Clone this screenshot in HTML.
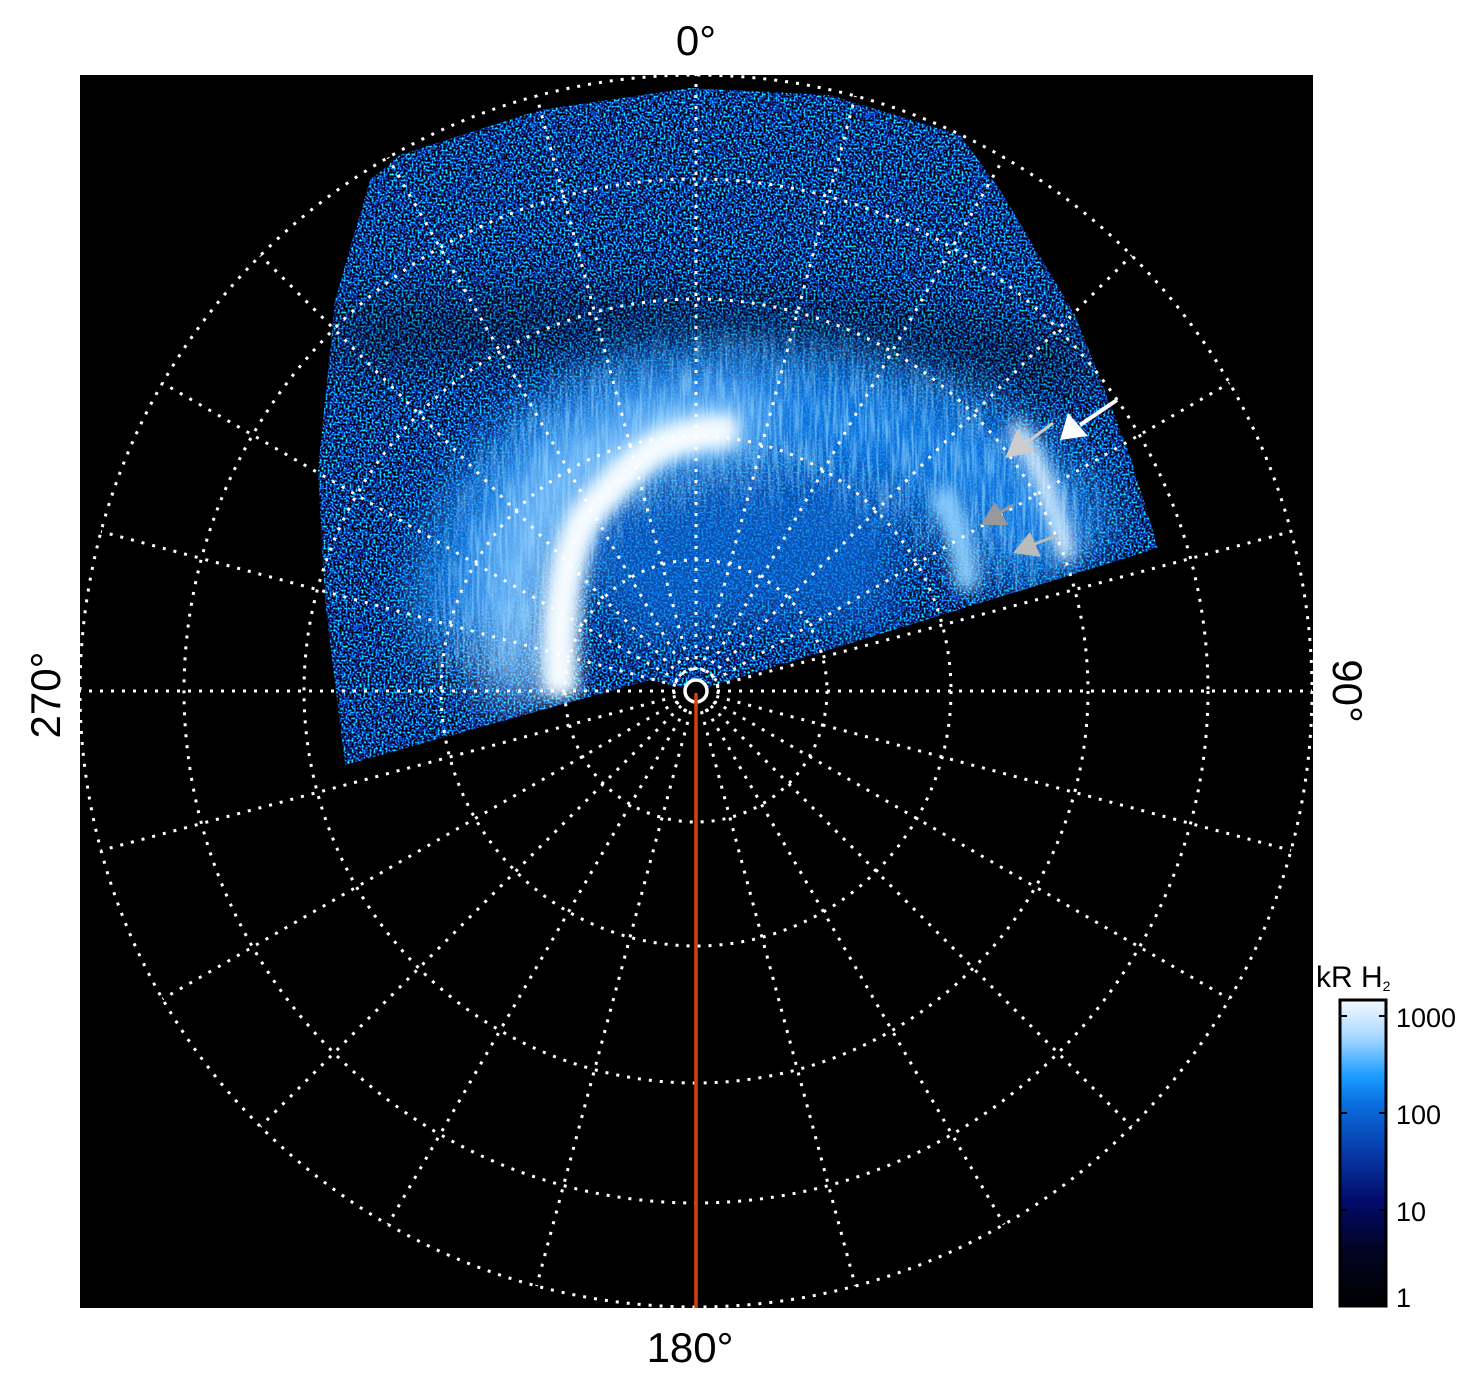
<!DOCTYPE html>
<html><head><meta charset="utf-8"><style>
body{margin:0;background:#fff;width:1481px;height:1384px;overflow:hidden;font-family:"Liberation Sans",sans-serif}
</style></head><body>
<svg width="1481" height="1384" viewBox="0 0 1481 1384" xmlns="http://www.w3.org/2000/svg">
<defs>
<filter id="noise" x="0" y="0" width="100%" height="100%" color-interpolation-filters="sRGB">
<feTurbulence type="fractalNoise" baseFrequency="0.5" numOctaves="1" seed="3"/>
<feColorMatrix type="matrix" values="0.3 0 0 0 -0.12  3.2 0 0 0 -1.4  4.5 0 0 0 -1.65  0 0 0 0 1"/>
</filter>
<filter id="streak" x="0" y="0" width="100%" height="100%" color-interpolation-filters="sRGB">
<feTurbulence type="fractalNoise" baseFrequency="0.35 0.025" numOctaves="2" seed="7"/>
<feColorMatrix type="matrix" values="0 0 0 0 0.6  0 0 0 0 0.85  0 0 0 0 1  3 0 0 0 -1.2"/>
</filter>
<filter id="b8" filterUnits="userSpaceOnUse" x="0" y="0" width="1481" height="1384"><feGaussianBlur stdDeviation="8"/></filter>
<filter id="b20" filterUnits="userSpaceOnUse" x="0" y="0" width="1481" height="1384"><feGaussianBlur stdDeviation="25"/></filter>
<clipPath id="reg"><path d="M696 691 L1158 548 L1130 455 L1075 315 L1000 190 L960 135 L830 95 L690 88 L540 110 L400 155 L370 180 L335 300 L318 470 L325 600 L345 765 L560 705 L650 680 Z"/></clipPath>
<mask id="auroraMask" maskUnits="userSpaceOnUse" x="0" y="0" width="1481" height="1384">
<path d="M500 680 Q490 440 700 420 Q950 410 1060 560" stroke="#fff" stroke-width="150" fill="none" filter="url(#b20)"/>
</mask>
<linearGradient id="cb" x1="0" y1="0" x2="0" y2="1">
<stop offset="0" stop-color="#f4faff"/><stop offset="0.12" stop-color="#a8d8ff"/><stop offset="0.25" stop-color="#1a9cff"/><stop offset="0.34" stop-color="#0a6ee0"/><stop offset="0.5" stop-color="#073aa8"/><stop offset="0.66" stop-color="#020a6a"/><stop offset="0.82" stop-color="#020422"/><stop offset="1" stop-color="#000"/>
</linearGradient>
</defs>
<rect x="80" y="75" width="1233" height="1233" fill="#000"/>
<g clip-path="url(#reg)">
<rect x="300" y="80" width="880" height="700" filter="url(#noise)"/>
<path d="M330 340 Q700 300 1090 370" stroke="#000" stroke-width="60" fill="none" filter="url(#b20)" opacity="0.35"/>
<path d="M470 640 Q490 430 700 410 Q950 400 1070 560" stroke="#1784f0" stroke-width="120" fill="none" filter="url(#b20)" opacity="0.85"/>
<path d="M600 600 Q700 520 900 560" stroke="#1070e0" stroke-width="150" fill="none" filter="url(#b20)" opacity="0.7"/>
<path d="M520 700 Q500 560 560 480 Q640 420 760 425" stroke="#8ccaff" stroke-width="60" fill="none" filter="url(#b20)" opacity="0.9"/>
<g mask="url(#auroraMask)"><rect x="300" y="80" width="880" height="700" filter="url(#streak)" opacity="0.6"/></g>
<path d="M560 695 Q555 580 583 520 Q615 478 657 447 Q690 432 735 430" stroke="#d8efff" stroke-width="36" fill="none" filter="url(#b8)"/>
<path d="M560 690 Q555 580 583 520 Q615 478 657 447 Q690 432 735 430" stroke="#fff" stroke-width="18" fill="none" filter="url(#b8)"/>
<path d="M1015 425 Q1050 480 1068 560" stroke="#e0f2ff" stroke-width="18" fill="none" filter="url(#b8)"/>
<path d="M940 490 Q965 540 968 590" stroke="#8ed0ff" stroke-width="24" fill="none" filter="url(#b8)"/>
</g>
<g fill="none" stroke="#fff" stroke-width="3" stroke-dasharray="3 8">
<circle cx="696" cy="691" r="131"/><circle cx="696" cy="691" r="255"/><circle cx="696" cy="691" r="392"/><circle cx="696" cy="691" r="512"/><circle cx="696" cy="691" r="616"/>
<circle cx="696" cy="691" r="22"/>
<g id="rad">
<line x1="696" y1="670" x2="696" y2="75"/>
<line x1="696" y1="670" x2="696" y2="75" transform="rotate(15 696 691)"/>
<line x1="696" y1="670" x2="696" y2="75" transform="rotate(30 696 691)"/>
<line x1="696" y1="670" x2="696" y2="75" transform="rotate(45 696 691)"/>
<line x1="696" y1="670" x2="696" y2="75" transform="rotate(60 696 691)"/>
<line x1="696" y1="670" x2="696" y2="75" transform="rotate(75 696 691)"/>
</g>
<use href="#rad" transform="rotate(90 696 691)"/>
<use href="#rad" transform="rotate(180 696 691)"/>
<use href="#rad" transform="rotate(270 696 691)"/>
</g>
<circle cx="696" cy="691" r="11" fill="#000" stroke="#fff" stroke-width="3.5"/>
<line x1="696" y1="693" x2="696" y2="1308" stroke="#d53e0e" stroke-width="3.5"/>
<path d="M1117 400 L1080 425" stroke="#fff" stroke-width="4"/><polygon points="1060,440 1068,413 1088,436" fill="#fff"/>
<path d="M1053 423 L1025 444" stroke="#ccc" stroke-width="3"/><polygon points="1005,458 1017,430 1034,452" fill="#ccc"/>
<path d="M1013 505 L995 515" stroke="#999" stroke-width="3"/><polygon points="981,525 995,502 1008,525" fill="#999"/>
<path d="M1058 535 L1032 545" stroke="#bbb" stroke-width="3"/><polygon points="1013,553 1030,532 1041,557" fill="#bbb"/>
<g font-size="42" fill="#000">
<text x="696" y="55" text-anchor="middle">0°</text>
<text x="690" y="1362" text-anchor="middle">180°</text>
<text transform="translate(60 695) rotate(-90)" text-anchor="middle">270°</text>
<text transform="translate(1333 691) rotate(90)" text-anchor="middle">90°</text>
</g>
<text x="1316" y="987" font-size="30">kR H<tspan font-size="14" dy="4">2</tspan></text>
<rect x="1340" y="1000" width="46" height="306" fill="url(#cb)" stroke="#000" stroke-width="3"/>
<g stroke="#000" stroke-width="2"><line x1="1340" y1="1016" x2="1347" y2="1016"/><line x1="1379" y1="1016" x2="1386" y2="1016"/><line x1="1340" y1="1113" x2="1347" y2="1113"/><line x1="1379" y1="1113" x2="1386" y2="1113"/><line x1="1340" y1="1210" x2="1347" y2="1210"/><line x1="1379" y1="1210" x2="1386" y2="1210"/></g>
<g font-size="27" fill="#000"><text x="1396" y="1027">1000</text><text x="1396" y="1124">100</text><text x="1396" y="1221">10</text><text x="1396" y="1307">1</text></g>
</svg>
</body></html>
